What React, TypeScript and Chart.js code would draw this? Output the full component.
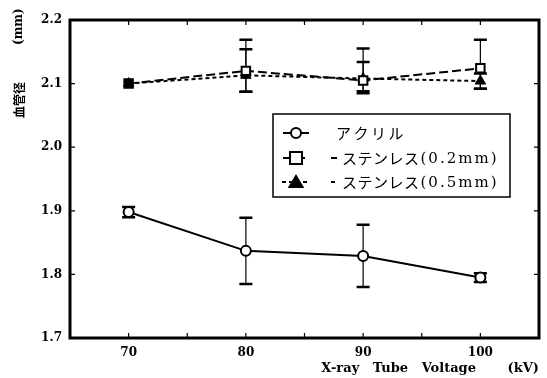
import React, { useEffect, useRef } from 'react';
import { Chart, registerables } from 'chart.js';

Chart.register(...registerables);

const voltages = [70, 80, 90, 100];
const acrylic = [1.898, 1.837, 1.829, 1.795];
const acrylicErrPlus = [0.008, 0.052, 0.049, 0.007];
const acrylicErrMinus = [0.008, 0.052, 0.049, 0.007];
const sus02 = [2.1, 2.12, 2.105, 2.124];
const sus02ErrPlus = [0, 0.049, 0.05, 0.045];
const sus02ErrMinus = [0, 0.033, 0.02, 0.032];
const sus05 = [2.1, 2.113, 2.108, 2.104];
const sus05ErrPlus = [0, 0.041, 0.026, 0.012];
const sus05ErrMinus = [0, 0.026, 0.02, 0.012];

const seriesNames = ['アクリル', 'ステンレス', 'ステンレス'];
const seriesSuffix = ['', '(0.2mm)', '(0.5mm)'];
const yTitleMain = '血管径';
const yTitleUnit = '(mm)';
const xTitle = 'X-ray   Tube   Voltage       (kV)';

const errPlus = [acrylicErrPlus, sus02ErrPlus, sus05ErrPlus];
const errMinus = [acrylicErrMinus, sus02ErrMinus, sus05ErrMinus];

const tickFont = { family: 'DejaVu Serif', weight: 'bold' as const, size: 12 };
const titleFont = { family: 'DejaVu Serif', weight: 'bold' as const, size: 13 };

export default function App() {
  const ref = useRef<HTMLCanvasElement>(null);
  useEffect(() => {
    const canvas = ref.current!;
    const errorBars = {
      id: 'errorBars',
      beforeDatasetsDraw(chart: any) {
        const { ctx, scales } = chart;
        const x = scales.x;
        const y = scales.y;
        ctx.save();
        ctx.strokeStyle = '#000';
        chart.data.datasets.forEach((ds: any, di: number) => {
          ds.data.forEach((p: any, i: number) => {
            const up = errPlus[di][i];
            const dn = errMinus[di][i];
            if (!up && !dn) return;
            const px = x.getPixelForValue(p.x);
            const pt = y.getPixelForValue(p.y + up);
            const pb = y.getPixelForValue(p.y - dn);
            ctx.lineWidth = 1.2;
            ctx.beginPath();
            ctx.moveTo(px, pt);
            ctx.lineTo(px, pb);
            ctx.stroke();
            ctx.lineWidth = 2.5;
            ctx.beginPath();
            ctx.moveTo(px - 6.5, pt);
            ctx.lineTo(px + 6.5, pt);
            ctx.moveTo(px - 6.5, pb);
            ctx.lineTo(px + 6.5, pb);
            ctx.stroke();
          });
        });
        ctx.restore();
      },
      afterDraw(chart: any) {
        const { ctx, chartArea: a, scales } = chart;
        ctx.save();
        ctx.strokeStyle = '#000';
        // frame
        ctx.lineWidth = 3;
        ctx.strokeRect(a.left, a.top, a.right - a.left, a.bottom - a.top);
        // ticks
        ctx.lineWidth = 1.2;
        ctx.beginPath();
        scales.x.ticks.forEach((t: any) => {
          if (t.value <= 65 || t.value >= 105) return;
          const px = scales.x.getPixelForValue(t.value);
          ctx.moveTo(px, a.bottom);
          ctx.lineTo(px, a.bottom - 5);
          ctx.moveTo(px, a.top);
          ctx.lineTo(px, a.top + 5);
        });
        scales.y.ticks.forEach((t: any) => {
          const py = scales.y.getPixelForValue(t.value);
          ctx.moveTo(a.left, py);
          ctx.lineTo(a.left + 5, py);
          ctx.moveTo(a.right, py);
          ctx.lineTo(a.right - 5, py);
        });
        ctx.stroke();

        // y title (rotated)
        ctx.save();
        ctx.translate(19, 118);
        ctx.rotate(-Math.PI / 2);
        ctx.fillStyle = '#000';
        ctx.textBaseline = 'middle';
        ctx.textAlign = 'left';
        ctx.font = 'bold 12px "Noto Sans CJK JP"';
        ctx.fillText(yTitleMain, 0, 0);
        ctx.font = 'bold 12px "DejaVu Serif"';
        ctx.fillText(yTitleUnit, 73, 0);
        ctx.restore();

        // legend
        const bx = 273, by = 114, bw = 237, bh = 83;
        ctx.fillStyle = '#fff';
        ctx.fillRect(bx, by, bw, bh);
        ctx.lineWidth = 1.5;
        ctx.strokeRect(bx, by, bw, bh);
        const rows = [133, 158, 182];
        chart.data.datasets.forEach((ds: any, di: number) => {
          const ry = rows[di];
          ctx.save();
          ctx.lineWidth = 2;
          ctx.setLineDash(ds.borderDash || []);
          ctx.beginPath();
          ctx.moveTo(di === 2 ? 282 : 283, ry);
          ctx.lineTo(309, ry);
          if (di > 0) {
            ctx.moveTo(331, ry);
            ctx.lineTo(337, ry);
          }
          ctx.stroke();
          ctx.restore();
          ctx.lineWidth = 2;
          ctx.fillStyle = di === 2 ? '#000' : '#fff';
          ctx.beginPath();
          if (di === 0) {
            ctx.arc(296, ry, 5, 0, Math.PI * 2);
            ctx.fill();
            ctx.stroke();
          } else if (di === 1) {
            ctx.rect(290, ry - 6, 12, 12);
            ctx.fill();
            ctx.stroke();
          } else {
            ctx.moveTo(296, ry - 6);
            ctx.lineTo(302.5, ry + 5);
            ctx.lineTo(289.5, ry + 5);
            ctx.closePath();
            ctx.fill();
            ctx.stroke();
          }
          ctx.fillStyle = '#000';
          ctx.textBaseline = 'middle';
          ctx.textAlign = 'left';
          ctx.font = '15px "Noto Sans CJK JP"';
          (ctx as any).letterSpacing = di === 0 ? '2.5px' : '0.5px';
          const sx = di === 0 ? 336 : 342;
          ctx.fillText(seriesNames[di], sx, ry);
          const w = ctx.measureText(seriesNames[di]).width;
          if (seriesSuffix[di]) {
            ctx.font = '15px "DejaVu Serif"';
            (ctx as any).letterSpacing = '2px';
            ctx.fillText(seriesSuffix[di], sx + w + 1, ry + 1);
          }
          (ctx as any).letterSpacing = '0px';
        });
        ctx.restore();
      },
    };

    const chart = new Chart(canvas, {
      type: 'line',
      data: {
        datasets: [
          {
            label: seriesNames[0],
            data: voltages.map((v, i) => ({ x: v, y: acrylic[i] })),
            borderColor: '#000',
            borderWidth: 2,
            pointStyle: 'circle',
            pointRadius: 5,
            pointBorderWidth: 2,
            pointBackgroundColor: '#fff',
            pointBorderColor: '#000',
          },
          {
            label: seriesNames[1] + seriesSuffix[1],
            data: voltages.map((v, i) => ({ x: v, y: sus02[i] })),
            borderColor: '#000',
            borderWidth: 2,
            borderDash: [9, 4],
            pointStyle: 'rect',
            pointRadius: 6,
            pointBorderWidth: 2,
            pointBackgroundColor: ['#000', '#fff', '#fff', '#fff'],
            pointBorderColor: '#000',
          },
          {
            label: seriesNames[2] + seriesSuffix[2],
            data: voltages.map((v, i) => ({ x: v, y: sus05[i] })),
            borderColor: '#000',
            borderWidth: 2,
            borderDash: [4, 3],
            pointStyle: 'triangle',
            pointRadius: 6,
            pointBorderWidth: 1,
            pointBackgroundColor: '#000',
            pointBorderColor: '#000',
          },
        ],
      },
      options: {
        animation: false,
        responsive: false,
        events: [],
        layout: { padding: { top: 20, right: 6, left: 0, bottom: 0 } },
        plugins: { legend: { display: false }, tooltip: { enabled: false } },
        scales: {
          x: {
            type: 'linear',
            min: 65,
            max: 105,
            grid: { display: false, drawTicks: false },
            border: { display: false },
            ticks: {
              stepSize: 5,
              padding: 8,
              color: '#000',
              font: tickFont,
              maxRotation: 0,
              autoSkip: false,
              callback: (v: any) => (v % 10 === 0 && v >= 70 && v <= 100 ? String(v) : ''),
            },
            title: {
              display: true,
              text: xTitle,
              align: 'end',
              color: '#000',
              font: titleFont,
              padding: { top: 0, bottom: 2 },
            },
            afterFit: (s: any) => {
              s.height = 40;
            },
          },
          y: {
            min: 1.7,
            max: 2.2,
            grid: { display: false, drawTicks: false },
            border: { display: false },
            ticks: {
              stepSize: 0.1,
              padding: 8,
              color: '#000',
              font: tickFont,
              callback: (v: any) => Number(v).toFixed(1),
            },
            afterFit: (s: any) => {
              s.width = 70;
            },
          },
        },
      },
      plugins: [errorBars],
    } as any);
    return () => chart.destroy();
  }, []);

  return (
    <div style={{ position: 'fixed', left: 0, top: 0, width: 547, height: 378, background: '#fff' }}>
      <canvas ref={ref} width={547} height={378} style={{ width: 547, height: 378 }} />
    </div>
  );
}
